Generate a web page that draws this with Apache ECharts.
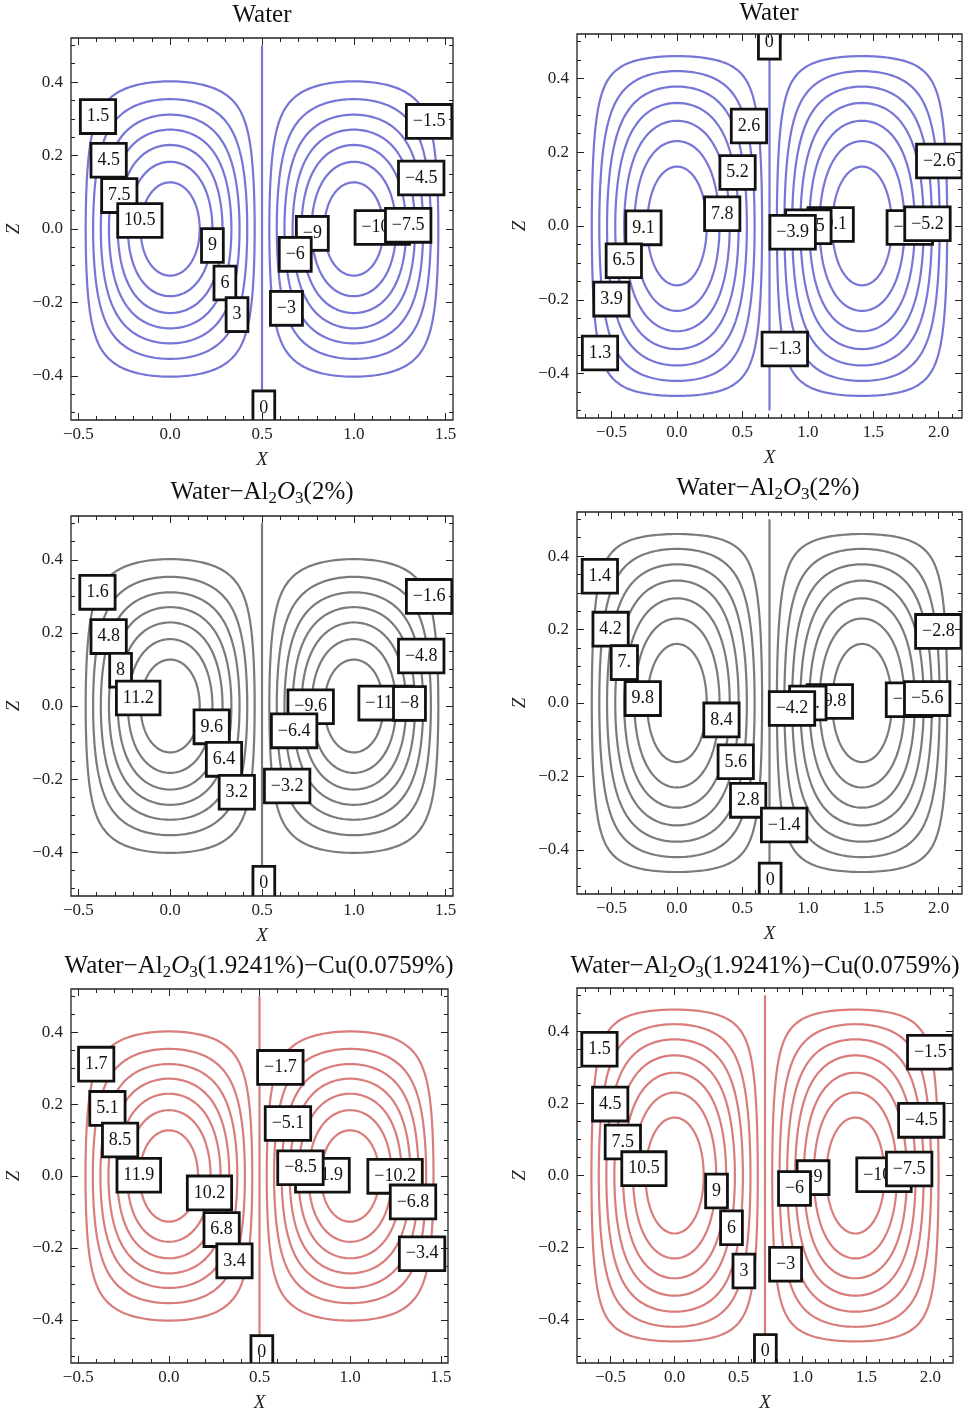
<!DOCTYPE html>
<html><head><meta charset="utf-8">
<script src="https://cdn.jsdelivr.net/npm/echarts@6/dist/echarts.min.js"></script>
<style>html,body{margin:0;padding:0;background:#fff}#c{width:968px;height:1417px}</style>
</head><body><div id="c"></div>
<script>
// ---------------- values ----------------
// contour levels (from the contour labels)
const levelsWaterRigid = [-10.5,-9,-7.5,-6,-4.5,-3,-1.5,0,1.5,3,4.5,6,7.5,9,10.5];
const levelsWaterFree  = [-9.1,-7.8,-6.5,-5.2,-3.9,-2.6,-1.3,0,1.3,2.6,3.9,5.2,6.5,7.8,9.1];
const levelsAlRigid    = [-11.2,-9.6,-8,-6.4,-4.8,-3.2,-1.6,0,1.6,3.2,4.8,6.4,8,9.6,11.2];
const levelsAlFree     = [-9.8,-8.4,-7,-5.6,-4.2,-2.8,-1.4,0,1.4,2.8,4.2,5.6,7,8.4,9.8];
const levelsHybRigid   = [-11.9,-10.2,-8.5,-6.8,-5.1,-3.4,-1.7,0,1.7,3.4,5.1,6.8,8.5,10.2,11.9];
const levelsHybFree    = [-10.5,-9,-7.5,-6,-4.5,-3,-1.5,0,1.5,3,4.5,6,7.5,9,10.5];

// estimated stream-function maximum of each panel
const psiMaxWaterRigid = 12.0, psiMaxWaterFree = 10.4;
const psiMaxAlRigid = 12.8,    psiMaxAlFree = 11.2;
const psiMaxHybRigid = 13.6,   psiMaxHybFree = 12.0;

// roll-cell widths (left column / right column)
const cellWidthRigid = 1.0, cellWidthFree = 1.4142;

// tick labels
const xTicksRigid = [-0.5, 0, 0.5, 1, 1.5];
const xTicksFree  = [-0.5, 0, 0.5, 1, 1.5, 2];
const zTicks      = [-0.4, -0.2, 0, 0.2, 0.4];

// contour labels: [text, x, z]  (drawn in this order)
const labelsWaterRigid = [
 ['1.5',-0.393,0.306],['4.5',-0.335,0.187],['7.5',-0.277,0.091],['10.5',-0.165,0.023],
 ['9',0.230,-0.045],['6',0.298,-0.147],['3',0.364,-0.233],['0',0.510,-0.487],
 ['−3',0.633,-0.216],['−9',0.774,-0.012],['−6',0.681,-0.069],
 ['−10.5',1.155,0.004],['−7.5',1.296,0.010],['−4.5',1.367,0.139],['−1.5',1.41,0.293]];
const labelsWaterFree = [
 ['0',0.706,0.498],['2.6',0.550,0.271],['5.2',0.463,0.145],['7.8',0.346,0.033],
 ['9.1',-0.256,-0.005],['6.5',-0.406,-0.094],['3.9',-0.501,-0.198],['1.3',-0.588,-0.344],
 ['−1.3',0.824,-0.333],['−9.1',1.174,0.004],['−6.5',1.004,-0.002],['−3.9',0.884,-0.017],
 ['−7.8',1.779,-0.004],['−5.2',1.914,0.006],['−2.6',2.004,0.176]];
const labelsAlRigid = [
 ['1.6',-0.396,0.311],['4.8',-0.335,0.190],['8',-0.270,0.098],['11.2',-0.174,0.022],
 ['9.6',0.226,-0.057],['6.4',0.293,-0.146],['3.2',0.363,-0.236],['0',0.510,-0.485],
 ['−3.2',0.637,-0.219],['−9.6',0.765,-0.002],['−6.4',0.675,-0.068],
 ['−11.2',1.174,0.008],['−8',1.303,0.007],['−4.8',1.367,0.137],['−1.6',1.41,0.30]];
const labelsAlFree = [
 ['1.4',-0.589,0.345],['4.2',-0.507,0.201],['7.',-0.402,0.110],['9.8',-0.261,0.012],
 ['8.4',0.340,-0.046],['5.6',0.449,-0.160],['2.8',0.544,-0.265],['0',0.712,-0.482],
 ['−1.4',0.819,-0.332],['−9.8',1.168,0.004],['−7.',1.0,0.0],['−4.2',0.879,-0.015],
 ['−8.4',1.773,0.009],['−5.6',1.912,0.012],['−2.8',1.997,0.195]];
const labelsHybRigid = [
 ['1.7',-0.401,0.311],['5.1',-0.339,0.188],['8.5',-0.269,0.10],['11.9',-0.166,0.002],
 ['10.2',0.224,-0.047],['6.8',0.291,-0.149],['3.4',0.362,-0.236],['0',0.513,-0.491],
 ['−1.7',0.615,0.302],['−5.1',0.657,0.146],['−11.9',0.847,0.002],['−8.5',0.726,0.023],
 ['−10.2',1.248,-0.001],['−6.8',1.347,-0.072],['−3.4',1.397,-0.216]];
const labelsHybFree = [
 ['1.5',-0.588,0.350],['4.5',-0.504,0.198],['7.5',-0.405,0.093],['10.5',-0.240,0.019],
 ['9',0.328,-0.043],['6',0.445,-0.145],['3',0.542,-0.265],['0',0.710,-0.488],
 ['−3',0.868,-0.246],['−9',1.083,-0.006],['−6',0.938,-0.036],
 ['−10.5',1.638,0.002],['−7.5',1.835,0.018],['−4.5',1.93,0.153],['−1.5',2.0,0.342]];

// titles (rich text)
const titleWater = '{a|Water}';
const titleAl  = '{a|Water−Al}{s|2}{i|O}{s|3}{a|(2%)}';
const titleHyb = '{a|Water−Al}{s|2}{i|O}{s|3}{a|(1.9241%)−Cu(0.0759%)}';

// ---------------- layout / style ----------------
const blue = '#7676d6', gray = '#7b7b7b', red = '#d97c7c';
const FONT = '"Liberation Serif", "Times New Roman", serif';

const panels = [
 {grid:{left:71,top:38,width:382,height:382},  levels:levelsWaterRigid, psi:psiMaxWaterRigid, L:cellWidthRigid, prof:'rigid', labels:labelsWaterRigid, color:blue, title:titleWater, tx:262, ty:15, xT:xTicksRigid},
 {grid:{left:577,top:34,width:385,height:384}, levels:levelsWaterFree,  psi:psiMaxWaterFree,  L:cellWidthFree,  prof:'free',  labels:labelsWaterFree,  color:blue, title:titleWater, tx:769, ty:13, xT:xTicksFree},
 {grid:{left:71,top:516,width:382,height:380}, levels:levelsAlRigid,    psi:psiMaxAlRigid,    L:cellWidthRigid, prof:'rigid', labels:labelsAlRigid,    color:gray, title:titleAl,    tx:262, ty:492, xT:xTicksRigid},
 {grid:{left:577,top:512,width:385,height:382},levels:levelsAlFree,     psi:psiMaxAlFree,     L:cellWidthFree,  prof:'free',  labels:labelsAlFree,     color:gray, title:titleAl,    tx:768, ty:488, xT:xTicksFree},
 {grid:{left:71,top:989,width:377,height:374}, levels:levelsHybRigid,   psi:psiMaxHybRigid,   L:cellWidthRigid, prof:'rigid', labels:labelsHybRigid,   color:red,  title:titleHyb,   tx:259, ty:966, xT:xTicksRigid},
 {grid:{left:577,top:988,width:376,height:375},levels:levelsHybFree,    psi:psiMaxHybFree,    L:cellWidthFree,  prof:'free',  labels:labelsHybFree,    color:red,  title:titleHyb,   tx:765, ty:966, xT:xTicksFree}
];

// contour of psi = psiMax * cos(pi x / L) * G(z) at a given level
function contourLoop(level, psi, L, prof) {
  if (level === 0) return [[L/2, -0.5], [L/2, 0.5]];
  const k = Math.abs(level) / psi;
  const cx = level > 0 ? 0 : L;
  const N = 60, q = [];
  for (let i = 0; i <= N; i++) {
    const t = i / N, s = (1 - Math.cos(Math.PI * t)) / 2;
    const u = Math.pow(k, 1 - s), g = k / u;
    const dx = L / Math.PI * Math.acos(Math.min(1, u));
    const dz = prof === 'rigid' ? 0.5 * Math.sqrt(Math.max(0, 1 - Math.sqrt(g)))
                                : Math.acos(Math.min(1, g)) / Math.PI;
    q.push([dx, dz]);
  }
  const pts = [];
  q.forEach(p => pts.push([cx + p[0], p[1]]));
  q.slice().reverse().forEach(p => pts.push([cx - p[0], p[1]]));
  q.forEach(p => pts.push([cx - p[0], -p[1]]));
  q.slice().reverse().forEach(p => pts.push([cx + p[0], -p[1]]));
  return pts;
}

function fmt(v) { const s = Math.abs(v).toFixed(1); return (v < -1e-9 ? '−' : '') + s; }
function minors(lo, hi, step, majorStep) {
  const out = [];
  const start = Math.ceil(lo / step - 1e-9), end = Math.floor(hi / step + 1e-9);
  for (let i = start; i <= end; i++) {
    const v = +(i * step).toFixed(4);
    if (Math.abs(v / majorStep - Math.round(v / majorStep)) > 1e-6) out.push(v);
  }
  return out;
}

const grids = [], xAxes = [], yAxes = [], series = [], graphics = [];
const tickStyle = {color:'#222', width:1};
panels.forEach((p, i) => {
  grids.push(Object.assign({show:true, borderColor:'#222', borderWidth:1.3, backgroundColor:'transparent', z:10}, p.grid));
  const w = 2 * p.L; const padX = 0.02 * w;
  const xmin = -p.L/2 - padX, xmax = 1.5 * p.L + padX, zmin = -0.52, zmax = 0.52;
  const xMin = minors(xmin, xmax, 0.1, 0.5), zMin = minors(zmin, zmax, 0.05, 0.2);
  const baseX = {gridIndex:i, type:'value', min:xmin, max:xmax, axisLine:{show:false, onZero:false}, splitLine:{show:false}, z:12};
  const baseY = {gridIndex:i, type:'value', min:zmin, max:zmax, axisLine:{show:false, onZero:false}, splitLine:{show:false}, z:12};
  xAxes.push(Object.assign({}, baseX, {position:'bottom',
    axisTick:{show:true, inside:true, length:7, customValues:p.xT, lineStyle:tickStyle},
    axisLabel:{show:true, customValues:p.xT, formatter:fmt, margin:6, color:'#222', fontFamily:FONT, fontSize:17},
    name:'X', nameLocation:'middle', nameGap:30,
    nameTextStyle:{fontFamily:FONT, fontStyle:'italic', fontSize:19, color:'#222'}}));
  xAxes.push(Object.assign({}, baseX, {position:'bottom', axisTick:{show:true, inside:true, length:4, customValues:xMin, lineStyle:tickStyle}, axisLabel:{show:false}}));
  xAxes.push(Object.assign({}, baseX, {position:'top', axisTick:{show:true, inside:true, length:7, customValues:p.xT, lineStyle:tickStyle}, axisLabel:{show:false}}));
  xAxes.push(Object.assign({}, baseX, {position:'top', axisTick:{show:true, inside:true, length:4, customValues:xMin, lineStyle:tickStyle}, axisLabel:{show:false}}));
  yAxes.push(Object.assign({}, baseY, {position:'left',
    axisTick:{show:true, inside:true, length:7, customValues:zTicks, lineStyle:tickStyle},
    axisLabel:{show:true, customValues:zTicks, formatter:fmt, margin:8, color:'#222', fontFamily:FONT, fontSize:17},
    name:'Z', nameLocation:'middle', nameGap:48,
    nameTextStyle:{fontFamily:FONT, fontStyle:'italic', fontSize:19, color:'#222'}}));
  yAxes.push(Object.assign({}, baseY, {position:'left', axisTick:{show:true, inside:true, length:4, customValues:zMin, lineStyle:tickStyle}, axisLabel:{show:false}}));
  yAxes.push(Object.assign({}, baseY, {position:'right', axisTick:{show:true, inside:true, length:7, customValues:zTicks, lineStyle:tickStyle}, axisLabel:{show:false}}));
  yAxes.push(Object.assign({}, baseY, {position:'right', axisTick:{show:true, inside:true, length:4, customValues:zMin, lineStyle:tickStyle}, axisLabel:{show:false}}));

  p.levels.forEach(lv => {
    series.push({type:'line', xAxisIndex:i*4, yAxisIndex:i*4, data:contourLoop(lv, p.psi, p.L, p.prof),
      showSymbol:false, symbol:'none', silent:true, animation:false, z:2,
      lineStyle:{color:p.color, width:2.2}});
  });
  const labs = p.labels;
  series.push({type:'custom', xAxisIndex:i*4, yAxisIndex:i*4, clip:true, silent:true, animation:false, z:5,
    data: labs.map(l => [l[1], l[2]]),
    renderItem: (params, api) => {
      const c = api.coord([api.value(0), api.value(1)]);
      return {type:'text', x:c[0], y:c[1], style:{text:labs[params.dataIndex][0], x:0, y:0,
        align:'center', verticalAlign:'middle', font:'18px ' + FONT, fill:'#111', lineHeight:19,
        backgroundColor:'#fff', borderColor:'#111', borderWidth:2.8, padding:[6,5,6,5]}};
    }});
  graphics.push({type:'text', x:p.tx, y:p.ty, z:20, style:{text:p.title, align:'center', verticalAlign:'middle',
    textAlign:'center', textVerticalAlign:'middle',
    rich:{a:{fontFamily:FONT, fontSize:25, fill:'#111', color:'#111'},
          i:{fontFamily:FONT, fontSize:25, fontStyle:'italic', fill:'#111', color:'#111'},
          s:{fontFamily:FONT, fontSize:17, fill:'#111', color:'#111', padding:[13,0,0,0]}}}});
});

const chart = echarts.init(document.getElementById('c'), null, {renderer:'canvas'});
chart.setOption({animation:false, backgroundColor:'#fff', grid:grids, xAxis:xAxes, yAxis:yAxes, series:series, graphic:graphics});
</script></body></html>
